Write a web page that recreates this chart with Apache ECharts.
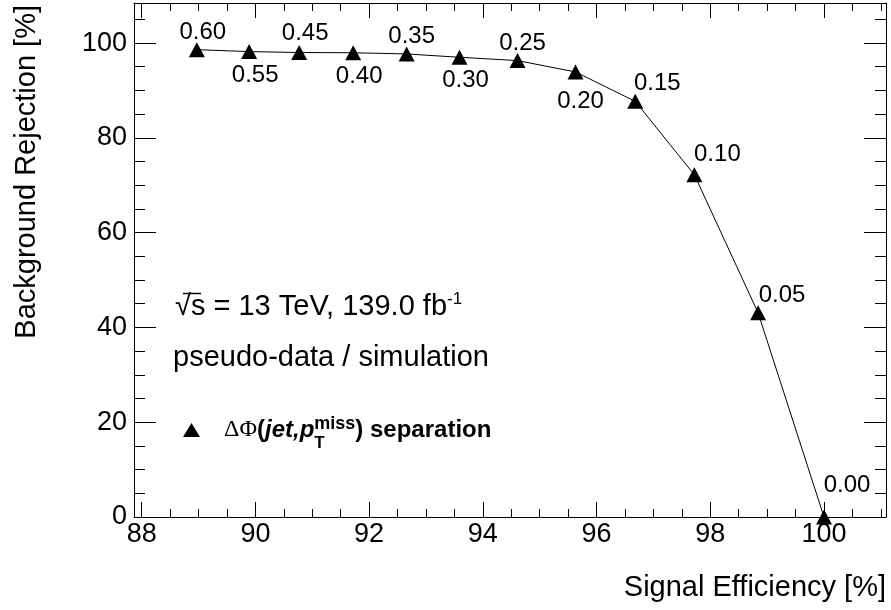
<!DOCTYPE html>
<html>
<head>
<meta charset="utf-8">
<script src="https://cdn.jsdelivr.net/npm/echarts@6/dist/echarts.min.js"></script>
<style>
  html, body { margin: 0; padding: 0; background: #fff; }
  #chart { width: 891px; height: 610px; }
</style>
</head>
<body>
<div id="chart"></div>
<script>
// ΔΦ cut value written next to each working point
const cutValues = ['0.60', '0.55', '0.45', '0.40', '0.35', '0.30', '0.25', '0.20', '0.15', '0.10', '0.05', '0.00'];
// signal efficiency [%]
const signalEff = [88.97, 89.89, 90.77, 91.72, 92.66, 93.59, 94.61, 95.63, 96.68, 97.72, 98.84, 100.0];
// background rejection [%]
const bkgRej = [98.6, 98.2, 98.0, 97.95, 97.7, 97.0, 96.3, 93.9, 87.7, 72.2, 43.1, 0.0];

const xMajorTicks = [88, 90, 92, 94, 96, 98, 100];
const yMajorTicks = [0, 20, 40, 60, 80, 100];

const X_MIN = 87.865, X_MAX = 101.09;
const Y_MIN = 0, Y_MAX = 108.45;

const FONT = 'Liberation Sans';

// minor ticks every 0.5 (x) and every 5 (y) inside the axis range
function minorTicks(step, lo, hi, majors) {
  const out = [];
  for (let v = Math.ceil(lo / step) * step; v <= hi + 1e-9; v += step) {
    const r = Math.round(v * 100) / 100;
    if (!majors.includes(r)) out.push(r);
  }
  return out;
}
const xMinorTicks = minorTicks(0.5, X_MIN, X_MAX, xMajorTicks);
const yMinorTicks = minorTicks(5, Y_MIN, Y_MAX, yMajorTicks);

// label placement around each marker (dx, dy from marker centre)
const labelOffsets = [
  [6, -17], [6, 24], [6, -19], [6, 24], [5, -18], [6, 23],
  [5, -17], [5, 29], [22, -18], [23, -20], [24, -17], [23, -32]
];

function makeAxis(dim, position, ticks, tickLen, showLine, showLabel) {
  const isX = dim === 'x';
  return {
    type: 'value',
    position: position,
    min: isX ? X_MIN : Y_MIN,
    max: isX ? X_MAX : Y_MAX,
    axisLine: { show: showLine, onZero: false, lineStyle: { color: '#000', width: 1 } },
    axisTick: {
      show: true, inside: true, length: tickLen, customValues: ticks,
      lineStyle: { color: '#000', width: 1 }
    },
    axisLabel: {
      show: showLabel, customValues: ticks,
      color: '#000', fontFamily: FONT, fontSize: 27,
      margin: isX ? 4 : 7
    },
    splitLine: { show: false },
    minorTick: { show: false }
  };
}

const seriesData = signalEff.map((x, i) => ({
  value: [x, bkgRej[i]],
  label: { offset: labelOffsets[i] }
}));

const chart = echarts.init(document.getElementById('chart'), null, { renderer: 'canvas' });

chart.setOption({
  animation: false,
  backgroundColor: '#fff',
  grid: { left: 134, right: 5, top: 3, bottom: 93, containLabel: false },
  xAxis: [
    makeAxis('x', 'bottom', xMajorTicks, 15, true, true),
    makeAxis('x', 'bottom', xMinorTicks, 8, false, false),
    makeAxis('x', 'top', xMajorTicks, 15, true, false),
    makeAxis('x', 'top', xMinorTicks, 8, false, false)
  ],
  yAxis: [
    makeAxis('y', 'left', yMajorTicks, 22, true, true),
    makeAxis('y', 'left', yMinorTicks, 11, false, false),
    makeAxis('y', 'right', yMajorTicks, 22, true, false),
    makeAxis('y', 'right', yMinorTicks, 11, false, false)
  ],
  legend: {
    left: 178, top: 403,
    icon: 'triangle', itemWidth: 17, itemHeight: 14,
    itemStyle: { color: '#000' },
    selectedMode: false,
    formatter: () => '{gap|}{g|ΔΦ}{b|(}{bi|jet,p}{sub|T}{sup|miss}{b|) separation}',
    textStyle: {
      color: '#000', fontFamily: FONT, fontSize: 24, fontWeight: 'bold',
      rich: {
        gap: { width: 19 },
        g: { fontFamily: 'Liberation Serif', fontSize: 24, fontWeight: 'normal', lineHeight: 26 },
        b: { fontFamily: FONT, fontSize: 24, fontWeight: 'bold', lineHeight: 26 },
        bi: { fontFamily: FONT, fontSize: 24, fontWeight: 'bold', fontStyle: 'italic', lineHeight: 26 },
        sub: { fontFamily: FONT, fontSize: 17, fontWeight: 'bold', lineHeight: 17, width: 0, padding: [27, 0, 0, 0] },
        sup: { fontFamily: FONT, fontSize: 18, fontWeight: 'bold', lineHeight: 18, padding: [0, 0, 11, 0] }
      }
    },
    data: [{ name: 'sep', icon: 'triangle' }]
  },
  graphic: [
    {
      type: 'text', x: 886, y: 588, silent: true,
      style: {
        legacy: false, text: 'Signal Efficiency [%]', fill: '#000',
        fontFamily: FONT, fontSize: 29, align: 'right', verticalAlign: 'middle'
      }
    },
    {
      type: 'text', x: 27, y: 5, rotation: Math.PI / 2, silent: true,
      style: {
        legacy: false, text: 'Background Rejection [%]', fill: '#000',
        fontFamily: FONT, fontSize: 29, align: 'right', verticalAlign: 'middle'
      }
    },
    {
      type: 'text', x: 175, y: 307, silent: true,
      style: {
        legacy: false, text: '{n|√s = 13 TeV, 139.0 fb}{sup|-1}', fill: '#000',
        fontFamily: FONT, fontSize: 29, align: 'left', verticalAlign: 'middle',
        rich: {
          n: { fontFamily: FONT, fontSize: 29, lineHeight: 30, fill: '#000' },
          sup: { fontFamily: FONT, fontSize: 17, lineHeight: 17, padding: [0, 0, 15, 0], fill: '#000' }
        }
      }
    },
    {
      type: 'line', silent: true,
      shape: { x1: 183, y1: 293.5, x2: 201, y2: 293.5 },
      style: { stroke: '#000', lineWidth: 1.5 }
    },
    {
      type: 'text', x: 173, y: 358, silent: true,
      style: {
        legacy: false, text: 'pseudo-data / simulation', fill: '#000',
        fontFamily: FONT, fontSize: 29, align: 'left', verticalAlign: 'middle'
      }
    }
  ],
  series: [
    {
      name: 'sep',
      type: 'line',
      xAxisIndex: 0,
      yAxisIndex: 0,
      data: seriesData,
      symbol: 'triangle',
      symbolSize: [16, 15],
      showAllSymbol: true,
      lineStyle: { color: '#000', width: 1 },
      itemStyle: { color: '#000' },
      label: {
        show: true,
        position: 'inside',
        color: '#000',
        fontFamily: FONT,
        fontSize: 24,
        formatter: p => cutValues[p.dataIndex]
      },
      emphasis: { disabled: true },
      z: 3
    }
  ]
});
</script>
</body>
</html>
